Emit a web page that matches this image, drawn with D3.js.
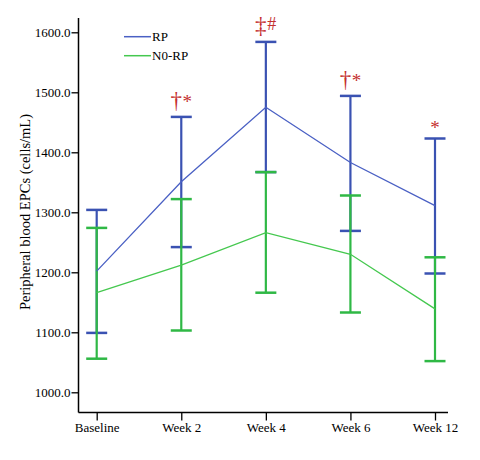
<!DOCTYPE html>
<html><head><meta charset="utf-8">
<script src="https://cdn.jsdelivr.net/npm/d3@7"></script>
<style>body{margin:0;background:#fff;} text{font-family:"Liberation Serif","Times New Roman",serif;}</style>
</head><body><svg id="c" width="480" height="460"></svg>
<script>
const categories = ["Baseline","Week 2","Week 4","Week 6","Week 12"];
const rpMean  = [1202, 1351, 1475, 1383, 1311];
const rpUpper = [1304, 1459, 1584, 1494, 1423];
const rpLower = [1099, 1242, 1367, 1269, 1198];
const noMean  = [1166, 1212, 1266, 1230, 1139];
const noUpper = [1274, 1322, 1367, 1328, 1225];
const noLower = [1056, 1103, 1166, 1133, 1052];
const yTicks = [1000,1100,1200,1300,1400,1500,1600];
const markA = ["", "†", "‡", "†", ""];
const markB = ["", "*", "#", "*", "*"];
const seriesNames = ["RP","N0-RP"];

const svg = d3.select("#c");
const x = d3.scalePoint().domain(categories).range([96.7, 435]);
const y = d3.scaleLinear().domain([1000,1600]).range([392.3, 32.3]);

// axes
const yAxis = d3.axisLeft(y).tickValues(yTicks).tickFormat(d3.format(".1f")).tickSize(7).tickSizeOuter(0);
const gy = svg.append("g").attr("transform","translate(78.5,0)").call(yAxis);
gy.select(".domain").remove();
gy.selectAll("line").attr("stroke","#000").attr("stroke-width",1.3);
gy.selectAll("text").attr("font-size",13).attr("fill","#000").attr("x",-8);
svg.append("line").attr("x1",78.5).attr("x2",78.5).attr("y1",18).attr("y2",412.5).attr("stroke","#000").attr("stroke-width",1.5);

const xAxis = d3.axisBottom(x).tickSize(8).tickSizeOuter(0);
const gx = svg.append("g").attr("transform","translate(0,412.5)").call(xAxis);
gx.select(".domain").remove();
gx.selectAll("line").attr("stroke","#000").attr("stroke-width",1.3);
gx.selectAll("text").attr("font-size",13).attr("fill","#000").attr("y",10);
svg.append("line").attr("x1",78.5).attr("x2",448).attr("y1",412.5).attr("y2",412.5).attr("stroke","#000").attr("stroke-width",1.5);

svg.append("text").attr("transform","translate(30,212) rotate(-90)").attr("text-anchor","middle")
  .attr("font-size",14.5).attr("fill","#000").text("Peripheral blood EPCs (cells/mL)");

function errorBars(lower, upper, color){
  const g = svg.append("g");
  categories.forEach((c,i)=>{
    const cx = x(c);
    g.append("line").attr("x1",cx).attr("x2",cx).attr("y1",y(upper[i])).attr("y2",y(lower[i])).attr("stroke",color).attr("stroke-width",2.2);
    [upper[i], lower[i]].forEach(v=>{
      g.append("line").attr("x1",cx-10.5).attr("x2",cx+10.5).attr("y1",y(v)).attr("y2",y(v)).attr("stroke",color).attr("stroke-width",2.5);
    });
  });
}
const line = d3.line().x((d,i)=>x(categories[i])).y(d=>y(d));

errorBars(rpLower, rpUpper, "#3a52b2");
errorBars(noLower, noUpper, "#2fb845");
svg.append("path").datum(rpMean).attr("d",line).attr("fill","none").attr("stroke","#4a60c4").attr("stroke-width",1.3);
svg.append("path").datum(noMean).attr("d",line).attr("fill","none").attr("stroke","#45c84f").attr("stroke-width",1.3);

// annotations
const red = "#c4302f";
categories.forEach((c,i)=>{
  const cx = x(c), cy = y(rpUpper[i]);
  if(markA[i]){
    svg.append("text").attr("x",cx-5).attr("y",cy-9).attr("text-anchor","middle")
      .attr("font-size",23).attr("fill",red).text(markA[i]);
  }
  if(markB[i]){
    const solo = !markA[i];
    const isHash = markB[i]==="#";
    svg.append("text").attr("x",solo?cx:cx+6).attr("y",solo?cy-5:(isHash?cy-11.5:cy-9))
      .attr("text-anchor","middle").attr("font-size",isHash?18:19).attr("fill",red).text(markB[i]);
  }
});

// legend
const legColors = ["#4a60c4","#45c84f"];
seriesNames.forEach((n,i)=>{
  const ly = 36.7 + i*19;
  svg.append("line").attr("x1",124).attr("x2",151).attr("y1",ly).attr("y2",ly).attr("stroke",legColors[i]).attr("stroke-width",1.5);
  svg.append("text").attr("x",152).attr("y",ly+4.5).attr("font-size",13).attr("fill","#000").text(n);
});
</script></body></html>
